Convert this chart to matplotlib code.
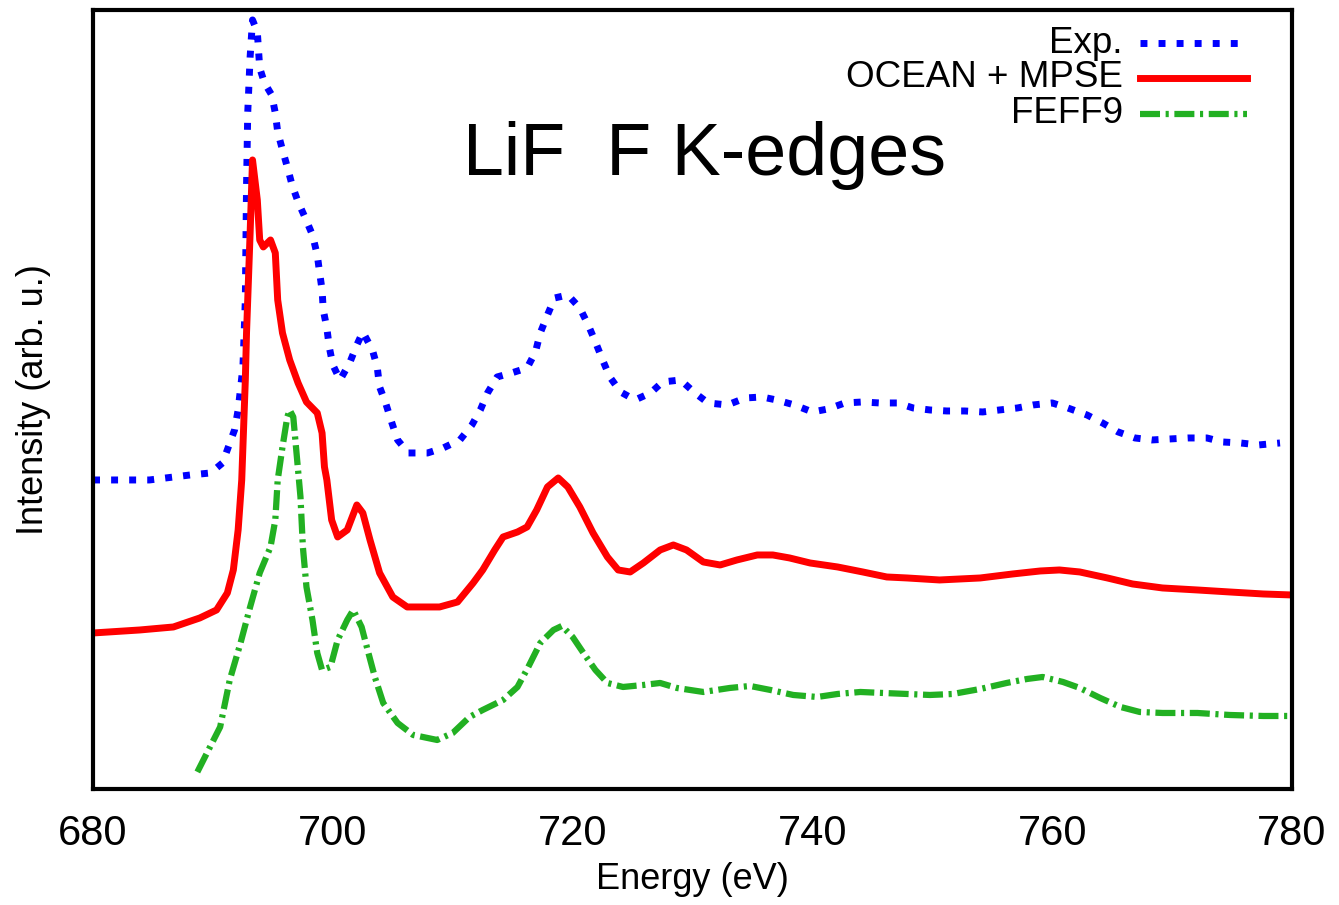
import matplotlib
matplotlib.use('Agg')
import matplotlib.pyplot as plt
from matplotlib.lines import Line2D

plt.rcParams['font.family'] = ['Liberation Sans', 'DejaVu Sans']

# ---- data ----
exp_energy = [680.0, 684.7, 688.1, 689.8, 690.8, 691.8, 692.1, 692.5, 692.7, 692.8, 692.9, 693.1,
              693.3, 693.7, 693.8, 693.9, 694.3, 694.9, 695.2, 695.4, 695.8, 696.2, 696.6, 697.1,
              697.7, 698.3, 698.7, 698.9, 699.1, 699.2, 699.5, 699.7, 700.0, 700.6, 701.4, 702.0,
              702.5, 703.3, 703.7, 703.9, 704.4, 704.9, 705.4, 706.3, 707.9, 709.2, 710.6, 711.6,
              712.3, 712.9, 713.7, 714.9, 716.2, 716.9, 717.3, 717.9, 718.5, 719.6, 720.6, 721.3,
              721.9, 722.5, 723.1, 724.0, 725.2, 726.5, 727.5, 729.0, 730.2, 731.3, 732.9, 734.4,
              735.8, 737.0, 738.5, 740.0, 741.3, 742.7, 744.2, 745.6, 747.1, 748.4, 749.8, 751.2,
              752.7, 754.2, 755.6, 757.1, 758.4, 760.0, 761.3, 762.9, 764.2, 765.5, 766.9, 768.3,
              769.8, 771.3, 772.9, 774.2, 775.7, 777.2, 779.0]
exp_intensity = [3.09, 3.09, 3.14, 3.16, 3.26, 3.59, 3.79, 4.22, 4.89, 6.02, 6.76, 7.32,
                 7.69, 7.57, 7.39, 7.21, 7.06, 6.94, 6.76, 6.57, 6.39, 6.22, 6.04, 5.87,
                 5.71, 5.54, 5.34, 5.16, 4.99, 4.79, 4.61, 4.42, 4.24, 4.09, 4.26, 4.44,
                 4.57, 4.39, 4.22, 4.02, 3.86, 3.67, 3.49, 3.36, 3.36, 3.41, 3.49, 3.64,
                 3.79, 3.96, 4.12, 4.16, 4.21, 4.37, 4.56, 4.74, 4.91, 4.94, 4.81, 4.64,
                 4.47, 4.29, 4.12, 3.97, 3.89, 3.96, 4.07, 4.09, 3.96, 3.86, 3.84, 3.91,
                 3.92, 3.89, 3.84, 3.77, 3.80, 3.86, 3.87, 3.86, 3.86, 3.81, 3.79, 3.78,
                 3.78, 3.77, 3.79, 3.81, 3.84, 3.86, 3.81, 3.74, 3.66, 3.57, 3.51, 3.49,
                 3.50, 3.51, 3.51, 3.47, 3.46, 3.44, 3.46]

ocean_energy = [680.0, 683.9, 686.7, 688.9, 690.3, 691.2, 691.7, 692.1, 692.4, 692.7, 692.8, 693.1,
                693.3, 693.7, 693.9, 694.2, 694.8, 695.2, 695.4, 695.8, 696.4, 697.1, 697.8, 698.7,
                699.1, 699.3, 699.5, 699.9, 700.4, 701.2, 702.0, 702.5, 703.1, 703.9, 705.0, 706.2,
                708.9, 710.4, 711.7, 712.5, 713.5, 714.2, 715.4, 716.2, 717.0, 717.9, 718.8, 719.6,
                720.6, 721.7, 722.9, 723.8, 724.8, 725.9, 727.3, 728.4, 729.5, 730.9, 732.3, 733.7,
                735.4, 736.7, 738.1, 739.8, 742.1, 744.2, 746.2, 747.9, 750.6, 754.0, 756.7, 759.0,
                760.6, 762.3, 764.6, 766.7, 769.2, 772.1, 774.8, 777.6, 780.0]
ocean_intensity = [1.56, 1.59, 1.62, 1.71, 1.79, 1.96, 2.19, 2.59, 3.09, 4.09, 4.56, 5.56,
                   6.29, 5.89, 5.49, 5.42, 5.49, 5.36, 4.89, 4.56, 4.29, 4.06, 3.87, 3.76,
                   3.56, 3.22, 3.09, 2.69, 2.52, 2.59, 2.84, 2.76, 2.49, 2.16, 1.92, 1.82,
                   1.82, 1.87, 2.06, 2.19, 2.39, 2.52, 2.57, 2.62, 2.79, 3.02, 3.11, 3.02,
                   2.82, 2.56, 2.32, 2.19, 2.17, 2.26, 2.39, 2.44, 2.39, 2.27, 2.24, 2.29,
                   2.34, 2.34, 2.31, 2.26, 2.22, 2.17, 2.12, 2.11, 2.09, 2.11, 2.15, 2.18,
                   2.19, 2.17, 2.11, 2.05, 2.01, 1.99, 1.97, 1.95, 1.94]

feff_energy = [688.7, 689.5, 690.6, 691.4, 692.3, 693.1, 693.9, 694.8, 695.2, 695.4, 695.8, 696.2,
               696.4, 696.7, 697.0, 697.3, 697.5, 697.8, 698.3, 698.7, 699.1, 699.8, 700.4, 701.2,
               701.7, 702.4, 702.9, 703.5, 704.2, 705.4, 706.7, 708.7, 710.0, 711.4, 712.5, 714.2,
               715.4, 716.3, 717.3, 718.4, 719.1, 720.0, 720.9, 721.9, 722.9, 724.2, 725.9, 727.3,
               728.7, 730.9, 733.1, 734.8, 736.5, 738.4, 740.4, 742.1, 744.0, 745.9, 747.9, 749.8,
               751.7, 754.0, 756.2, 757.9, 759.2, 760.9, 762.3, 764.0, 765.7, 767.3, 769.2, 772.1,
               774.8, 777.6, 779.8]
feff_intensity = [0.17, 0.36, 0.62, 1.09, 1.46, 1.82, 2.16, 2.42, 2.69, 3.09, 3.42, 3.72,
                  3.79, 3.72, 3.32, 2.92, 2.42, 2.02, 1.69, 1.36, 1.19, 1.22, 1.49, 1.69,
                  1.79, 1.62, 1.39, 1.12, 0.86, 0.66, 0.54, 0.49, 0.56, 0.72, 0.79, 0.89,
                  1.02, 1.22, 1.46, 1.59, 1.63, 1.52, 1.36, 1.19, 1.06, 1.02, 1.04, 1.06,
                  1.01, 0.97, 1.01, 1.03, 0.99, 0.94, 0.92, 0.95, 0.97, 0.96, 0.95, 0.94,
                  0.95, 1.00, 1.06, 1.10, 1.12, 1.07, 1.01, 0.91, 0.82, 0.77, 0.76, 0.76,
                  0.74, 0.73, 0.73]

series_labels = ['Exp.', 'OCEAN + MPSE', 'FEFF9']
x_ticks = [680, 700, 720, 740, 760, 780]
title_text = 'LiF  F K-edges'

# ---- styles ----
styles = [
    dict(color='#0000ff', lw=5, linestyle=(0, (1, 1.6))),
    dict(color='#ff0000', lw=5, linestyle='-'),
    dict(color='#22b022', lw=4.5, linestyle=(0, (3.2, 0.9, 0.5, 0.9))),
]

# ---- figure ----
fig = plt.figure(figsize=(13.39, 9.05), dpi=100)
ax = fig.add_axes([0.0695, 0.1282, 0.8954, 0.8608])

for (xs, ys), st in zip([(exp_energy, exp_intensity),
                         (ocean_energy, ocean_intensity),
                         (feff_energy, feff_intensity)], styles):
    ax.plot(xs, ys, **st)

ax.set_xlim(680, 780)
ax.set_ylim(0, 7.79)
ax.set_xticks(x_ticks)
ax.set_yticks([])
ax.tick_params(axis='x', length=0, pad=18, labelsize=30)
for s in ax.spines.values():
    s.set_linewidth(3)

ax.set_xlabel('Energy (eV)', fontsize=26, labelpad=6)
ax.set_ylabel('Intensity (arb. u.)', fontsize=26, labelpad=30)

ax.text(0.51, 0.788, title_text, transform=ax.transAxes, fontsize=53,
        ha='center', va='baseline')

# ---- key (right-aligned labels, sample line to the right, gnuplot style) ----
row_y = [0.957, 0.913, 0.867]
for lab, st, yy in zip(series_labels, styles, row_y):
    ax.text(0.859, yy, lab, transform=ax.transAxes, fontsize=26.5,
            ha='right', va='center')
    ax.add_line(Line2D([0.873, 0.9625], [yy, yy], transform=ax.transAxes, **st))

fig.savefig('out.png', dpi=100)
